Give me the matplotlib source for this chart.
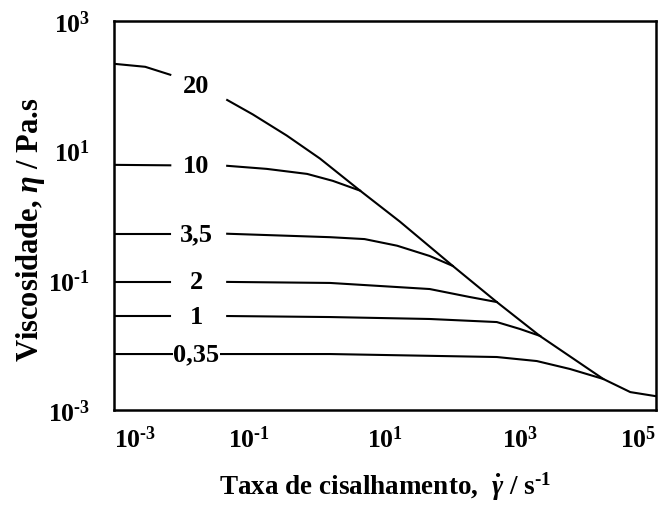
import matplotlib.pyplot as plt
from matplotlib.ticker import FixedLocator, FixedFormatter, NullLocator

plt.rcParams['font.family'] = ['Liberation Serif', 'DejaVu Serif']
plt.rcParams['font.weight'] = 'bold'
plt.rcParams['mathtext.fontset'] = 'custom'
plt.rcParams['mathtext.rm'] = 'Liberation Serif:bold'
plt.rcParams['mathtext.it'] = 'Liberation Serif:italic:bold'
plt.rcParams['mathtext.bf'] = 'Liberation Serif:bold'

# viscosity curves, one per concentration
conc_labels = ['20', '10', '3,5', '2', '1', '0,35']

rate_20 = [1e-3, 2.9e-3, 6.8e-3, 4.7e-2, 0.112, 0.355, 1.1, 4.3, 16.6, 100, 447, 1950, 16600, 41700, 98000]
eta_20 = [217, 195, 147, 60, 36, 17, 7.5, 2.4, 0.80, 0.166, 0.046, 0.0137, 0.0030, 0.00188, 0.00163]

rate_10 = [1e-3, 6.8e-3, 4.7e-2, 0.18, 0.71, 1.7, 4.3]
eta_10 = [6.0, 5.9, 5.8, 5.2, 4.35, 3.4, 2.4]

rate_35 = [1e-3, 6.8e-3, 4.7e-2, 1.55, 5.0, 15.1, 45.7, 100]
eta_35 = [0.52, 0.52, 0.52, 0.46, 0.43, 0.34, 0.236, 0.166]

rate_2 = [1e-3, 6.8e-3, 4.7e-2, 1.55, 45.7, 178, 447]
eta_2 = [0.094, 0.094, 0.094, 0.0906, 0.073, 0.055, 0.046]

rate_1 = [1e-3, 6.8e-3, 4.7e-2, 1.55, 45.7, 447, 977, 1950]
eta_1 = [0.028, 0.028, 0.028, 0.027, 0.0252, 0.0226, 0.0177, 0.0138]

rate_035 = [1e-3, 6.8e-3, 4.7e-2, 1.55, 447, 1740, 5370, 16600]
eta_035 = [0.00726, 0.00726, 0.00726, 0.00726, 0.00653, 0.00566, 0.00427, 0.0030]

label_x = 0.0165
label_y = [100, 5.8, 0.52, 0.094, 0.028, 0.00726]

# the lines are broken between these rates to leave room for the labels
gap_lo, gap_hi = 6.8e-3, 4.7e-2

fig = plt.figure(figsize=(6.62, 5.06), dpi=100)
ax = fig.add_axes([0.172, 0.188, 0.819, 0.769])

curves = [(rate_20, eta_20), (rate_10, eta_10), (rate_35, eta_35),
          (rate_2, eta_2), (rate_1, eta_1), (rate_035, eta_035)]
for i, (r, e) in enumerate(curves):
    if conc_labels[i] == '0,35':
        ax.plot(r, e, color='black', lw=1.5, zorder=2)
        continue
    left = [(a, b) for a, b in zip(r, e) if a <= gap_lo]
    right = [(a, b) for a, b in zip(r, e) if a >= gap_hi]
    ax.plot(*zip(*left), color='black', lw=1.5, zorder=2)
    ax.plot(*zip(*right), color='black', lw=1.5, zorder=2)

for lab, y in zip(conc_labels, label_y):
    ax.text(label_x, y, lab, fontsize=19, fontweight='bold', ha='center', va='center',
            zorder=3, bbox=dict(facecolor='white', edgecolor='none', pad=0.5))

ax.set_xscale('log')
ax.set_yscale('log')
ax.set_xlim(1e-3, 1e5)
ax.set_ylim(1e-3, 1e3)

xt = [1e-3, 1e-1, 1e1, 1e3, 1e5]
yt = [1e-3, 1e-1, 1e1, 1e3]
xt_lab = [r'$10^{\text{-}3}$', r'$10^{\text{-}1}$', r'$10^{1}$', r'$10^{3}$', r'$10^{5}$']
yt_lab = [r'$10^{\text{-}3}$', r'$10^{\text{-}1}$', r'$10^{1}$', r'$10^{3}$']
ax.xaxis.set_major_locator(FixedLocator(xt))
ax.xaxis.set_major_formatter(FixedFormatter(xt_lab))
ax.yaxis.set_major_locator(FixedLocator(yt))
ax.yaxis.set_major_formatter(FixedFormatter(yt_lab))
ax.xaxis.set_minor_locator(NullLocator())
ax.yaxis.set_minor_locator(NullLocator())
ax.tick_params(length=0, labelsize=18.5)
ax.tick_params(axis='x', pad=11)
ax.tick_params(axis='y', pad=17)

xticklabels = ax.get_xticklabels()
xticklabels[0].set_horizontalalignment('left')
xticklabels[-1].set_horizontalalignment('right')

for s in ax.spines.values():
    s.set_linewidth(1.8)

ax.set_xlabel(r'Taxa de cisalhamento,  $\dot{\gamma}$ / s$^{\text{-}1}$', fontsize=19.5, fontweight='bold', labelpad=13)
ax.set_ylabel(r'Viscosidade, $\eta$ / Pa.s', fontsize=22, fontweight='bold')
ax.yaxis.set_label_coords(-0.123, 0.465)

fig.savefig('out.png', dpi=100)
